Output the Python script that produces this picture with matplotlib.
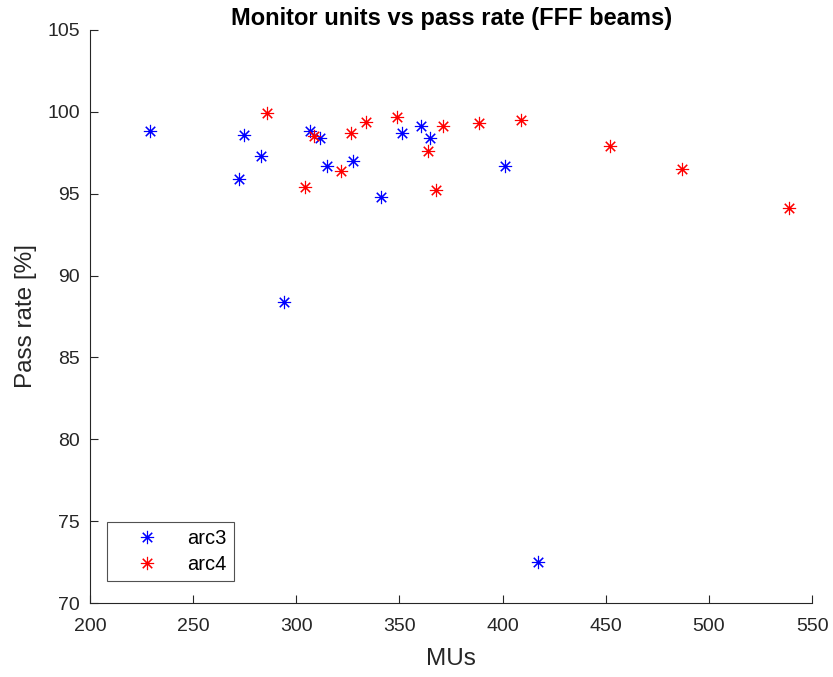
import matplotlib.pyplot as plt

# arc3 beams
arc3_mu = [229.0, 272.2, 274.8, 282.8, 294.1, 306.6, 311.7, 315.1, 327.6,
           341.0, 351.2, 360.2, 364.7, 401.1, 416.9]
arc3_pass = [98.8, 95.9, 98.6, 97.3, 88.4, 98.8, 98.4, 96.7, 97.0,
             94.8, 98.7, 99.1, 98.4, 96.7, 72.5]

# arc4 beams
arc4_mu = [285.6, 304.4, 308.6, 321.6, 326.5, 333.7, 348.6, 364.0, 367.8,
           371.2, 388.6, 409.1, 452.0, 487.1, 538.8]
arc4_pass = [99.9, 95.4, 98.5, 96.4, 98.7, 99.4, 99.7, 97.6, 95.2,
             99.1, 99.3, 99.5, 97.9, 96.5, 94.1]

plt.rcParams['font.family'] = ['Liberation Sans', 'DejaVu Sans']
axis_col = '#262626'

fig = plt.figure(figsize=(8.33, 6.77), dpi=100)
ax = fig.add_axes([0.108, 0.109, 0.867, 0.847])

mk = (8, 2, 0)
ax.plot(arc3_mu, arc3_pass, ls='none', marker=mk, ms=9.5, mew=0.8,
        color='#0000ff', label='arc3')
ax.plot(arc4_mu, arc4_pass, ls='none', marker=mk, ms=9.5, mew=0.8,
        color='#ff0000', label='arc4')

ax.set_xlim(200, 550)
ax.set_ylim(70, 105)
ax.set_xticks(range(200, 551, 50))
ax.set_yticks(range(70, 106, 5))

for s in ['top', 'right']:
    ax.spines[s].set_visible(False)
for s in ['left', 'bottom']:
    ax.spines[s].set_color(axis_col)
    ax.spines[s].set_linewidth(0.8)
ax.tick_params(direction='in', length=6, width=0.8, colors=axis_col,
               labelsize=14)
ax.tick_params(axis='x', pad=11)
ax.tick_params(axis='y', pad=7)

ax.set_xlabel('MUs', fontsize=17.5, color=axis_col, labelpad=9)
ax.set_ylabel('Pass rate [%]', fontsize=17.5, color=axis_col, labelpad=8)
ax.set_title('Monitor units vs pass rate (FFF beams)', fontsize=17,
             fontweight='bold', pad=1)

leg = ax.legend(loc='lower left', bbox_to_anchor=(0.0235, 0.039),
                borderaxespad=0, fontsize=14.5, frameon=True, fancybox=False,
                handlelength=3.3, handletextpad=0.35, borderpad=0.35,
                labelspacing=0.35)
leg.get_frame().set_edgecolor(axis_col)
leg.get_frame().set_linewidth(0.8)

fig.savefig('out.png', dpi=100)
